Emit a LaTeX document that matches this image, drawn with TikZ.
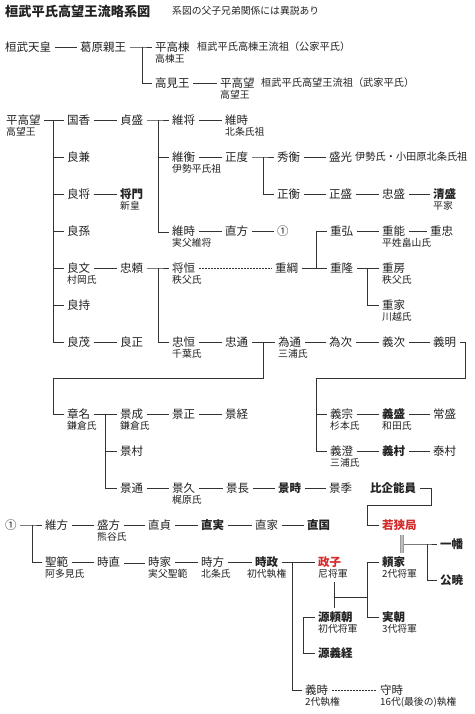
\documentclass[tikz,border=0pt]{standalone}
\usepackage{fontspec}
\setmainfont{Noto Sans CJK JP}
\definecolor{ink}{HTML}{222222}
\definecolor{lin}{HTML}{333333}
\definecolor{kred}{HTML}{D42A2A}
\newcommand\fmain{\fontsize{11.5}{13}\selectfont}
\newcommand\fsubl{\fontsize{9.8}{11}\selectfont}
\newcommand\fnote{\fontsize{10.2}{12}\selectfont}
\newcommand\ftitle{\fontsize{13.2}{15}\selectfont}
\newcommand\kname[4][]{\node[nm,#1] (#2) at (#3) {#4};}
\newcommand\ksub[2]{\node[sb] (#1s) at ([yshift=-12pt]#1.west) {#2};}
\begin{document}
\begin{tikzpicture}[x=1pt,y=-1pt,
  nm/.style={anchor=west, xshift=-3.5pt, inner xsep=3.5pt, inner ysep=0.5pt, font=\fmain, text=ink, text height=9.6pt, text depth=0.9pt},
  nb/.style={font=\fmain\bfseries},
  nr/.style={font=\fmain\bfseries, text=kred},
  sb/.style={anchor=west, inner xsep=3.5pt, inner ysep=0pt, font=\fsubl, text=ink, text height=8.2pt, text depth=0.8pt},
  note/.style={anchor=west, inner sep=0pt, font=\fnote, text=ink, text height=8.5pt, text depth=0.8pt},
  cn/.style={draw=lin, line width=0.8pt},
  dbl/.style={draw=lin, line width=0.7pt, double=white, double distance=1.6pt},
  dbg/.style={draw=black!40, line width=0.9pt, double=black!25, double distance=1.6pt},
  dot/.style={cn, dash pattern=on 1.6pt off 1.4pt}]
\fill[white] (0,0) rectangle (474,714);
\useasboundingbox (0,0) rectangle (474,714);

% title
\node[anchor=west,inner sep=0pt,font=\ftitle\bfseries,text=ink] (title) at (5,11) {桓武平氏高望王流略系図};
\node[anchor=west,inner sep=0pt,font=\fsubl,text=ink] (subtitle) at (172,11) {系図の父子兄弟関係には異説あり};

% top section
\kname{kanmu}{5,47}{桓武天皇}
\kname{kazu}{80,47}{葛原親王}
\kname{takamune}{155,47}{平高棟}\ksub{takamune}{高棟王}
\node[note] (note1) at (197,47) {桓武平氏高棟王流祖（公家平氏）};
\kname{takami}{155,83}{高見王}
\kname{tkA}{220,83}{平高望}\ksub{tkA}{高望王}
\node[note] (note2) at (261,83) {桓武平氏高望王流祖（武家平氏）};
\coordinate (jA) at (142,47);
\draw[cn] (kanmu.east) -- (kazu.west);
\draw[cn] (kazu.east) -- (jA) -- (takamune.west);
\draw[cn] (jA) |- (takami.west);
\draw[cn] (takami.east) -- (tkA.west);

% main tree
\kname{tk}{6,120}{平高望}\ksub{tk}{高望王}
\kname{kunika}{67,120}{国香}
\kname{yoshikane}{67,157}{良兼}
\kname{yoshimasa}{67,194}{良将}
\kname{yoshihiko}{67,231}{良孫}
\kname{yoshifumi}{67,268}{良文}\ksub{yoshifumi}{村岡氏}
\kname{yoshimochi}{67,305}{良持}
\kname{yoshishige}{67,342}{良茂}

\kname{sadamori}{120,120}{貞盛}
\kname[nb]{masakado}{120,194}{将門}\ksub{masakado}{新皇}
\kname{tadayori}{120,268}{忠頼}
\kname{yoshimasaB}{120,342}{良正}

\kname{koremasa}{172,120}{維将}
\kname{korehira}{172,157}{維衡}\ksub{korehira}{伊勢平氏祖}
\kname{koretokiB}{172,231}{維時}\ksub{koretokiB}{実父維将}
\kname{masatsune}{172,268}{将恒}\ksub{masatsune}{秩父氏}
\kname{tadatsune}{172,342}{忠恒}\ksub{tadatsune}{千葉氏}

\kname{koretokiA}{225,120}{維時}\ksub{koretokiA}{北条氏祖}
\kname{masanori}{225,157}{正度}
\kname{naokata}{225,231}{直方}
\kname{tadamichi}{225,342}{忠通}

\kname{hidehira}{277,157}{秀衡}
\kname{masahira}{277,194}{正衡}
\kname{circA}{277,231}{①}
\kname{shigetsuna}{275,268}{重綱}
\kname{tamemichi}{278,342}{為通}\ksub{tamemichi}{三浦氏}

\kname{morimitsu}{329,157}{盛光}
\node[note] (note3) at (355,157) {伊勢氏・小田原北条氏祖};
\kname{masamori}{329,194}{正盛}
\kname{shigehiro}{330,231}{重弘}
\kname{shigetaka}{330,268}{重隆}
\kname{tametsugu}{329,342}{為次}

\kname{tadamori}{382,194}{忠盛}
\kname{shigeyoshi}{382,231}{重能}\ksub{shigeyoshi}{平姓畠山氏}
\kname{shigefusa}{382,268}{重房}\ksub{shigefusa}{秩父氏}
\kname{shigeie}{382,305}{重家}\ksub{shigeie}{川越氏}
\kname{yoshitsugu}{382,342}{義次}

\kname[nb]{kiyomori}{433,194}{清盛}\ksub{kiyomori}{平家}
\kname{shigetada}{430,231}{重忠}
\kname{yoshiaki}{433,342}{義明}

% lower part
\kname{akina}{67,414}{章名}\ksub{akina}{鎌倉氏}
\kname{kagenari}{120,414}{景成}\ksub{kagenari}{鎌倉氏}
\kname{kagemasa}{172,414}{景正}
\kname{kagetsune}{225,414}{景経}
\kname{kagemura}{120,451}{景村}
\kname{kagemichi}{120,488}{景通}
\kname{kagehisa}{172,488}{景久}\ksub{kagehisa}{梶原氏}
\kname{kagenaga}{226,488}{景長}
\kname[nb]{kagetoki}{278,488}{景時}
\kname{kagesue}{329,488}{景季}
\kname[nb]{hiki}{370,488}{比企能員}

\kname{yoshimune}{330,414}{義宗}\ksub{yoshimune}{杉本氏}
\kname[nb]{yoshimori}{382,414}{義盛}\ksub{yoshimori}{和田氏}
\kname{tsunemori}{433,414}{常盛}
\kname{yoshizumi}{330,451}{義澄}\ksub{yoshizumi}{三浦氏}
\kname[nb]{yoshimura}{382,451}{義村}
\kname{yasumura}{433,451}{泰村}

\kname{circB}{5,525}{①}
\kname{koregata}{45,525}{維方}
\kname{morikata}{97,525}{盛方}\ksub{morikata}{熊谷氏}
\kname{naosada}{148,525}{直貞}
\kname[nb]{naozane}{201,525}{直実}
\kname{naoie}{255,525}{直家}
\kname[nb]{naokuni}{307,525}{直国}
\kname[nr]{wakasa}{382,525}{若狭局}

\kname{shohan}{45,562}{聖範}\ksub{shohan}{阿多見氏}
\kname{tokinao}{97,562}{時直}
\kname{tokiie}{148,562}{時家}\ksub{tokiie}{実父聖範}
\kname{tokikata}{201,562}{時方}\ksub{tokikata}{北条氏}
\kname[nb]{tokimasa}{255,562}{時政}
\node[sb,anchor=center] (tokimasas) at ([yshift=-12pt]tokimasa.center) {初代執権};
\kname[nr]{masako}{318,562}{政子}\ksub{masako}{尼将軍}
\kname[nb]{yoriie}{382,562}{頼家}\ksub{yoriie}{2代将軍}
\kname[nb]{ichiman}{440,544}{一幡}
\kname[nb]{kugyo}{440,580}{公暁}
\kname[nb]{yoritomo}{318,617}{源頼朝}\ksub{yoritomo}{初代将軍}
\kname[nb]{sanetomo}{382,617}{実朝}\ksub{sanetomo}{3代将軍}
\kname[nb]{yoshitsune}{318,653}{源義経}
\kname{yoshitoki}{305,690}{義時}\ksub{yoshitoki}{2代執権}
\kname{moritoki}{380,690}{守時}\ksub{moritoki}{16代(最後の)執権}

% ---- connectors ----
\coordinate (j1) at (53,120);
\draw[cn] (tk.east) -- (j1) |- (yoshishige.west);
\draw[cn] (j1) -- (kunika.west);
\draw[cn] (j1 |- yoshikane.west) -- (yoshikane.west);
\draw[cn] (j1 |- yoshimasa.west) -- (yoshimasa.west);
\draw[cn] (j1 |- yoshihiko.west) -- (yoshihiko.west);
\draw[cn] (j1 |- yoshifumi.west) -- (yoshifumi.west);
\draw[cn] (j1 |- yoshimochi.west) -- (yoshimochi.west);

\draw[cn] (kunika.east) -- (sadamori.west);
\coordinate (j2) at (158,120);
\coordinate (j2b) at (158,231);
\draw[dbl] (j2b) -- (koretokiB.west);
\draw[cn] (sadamori.east) -- (j2) -- (koremasa.west);
\draw[cn] (j2) -- ([yshift=-1.15pt]j2b);
\draw[cn] (j2 |- korehira.west) -- (korehira.west);
\draw[cn] (koremasa.east) -- (koretokiA.west);
\draw[cn] (korehira.east) -- (masanori.west);
\coordinate (j3) at (263,157);
\draw[cn] (masanori.east) -- (j3) -- (hidehira.west);
\draw[cn] (j3) |- (masahira.west);
\draw[cn] (hidehira.east) -- (morimitsu.west);
\draw[cn] (masahira.east) -- (masamori.west);
\draw[cn] (masamori.east) -- (tadamori.west);
\draw[cn] (tadamori.east) -- (kiyomori.west);
\draw[cn] (yoshimasa.east) -- (masakado.west);
\draw[cn] (koretokiB.east) -- (naokata.west);
\draw[cn] (naokata.east) -- (circA.west);

\draw[cn] (yoshifumi.east) -- (tadayori.west);
\coordinate (j4) at (158,268);
\draw[cn] (tadayori.east) -- (j4) -- (masatsune.west);
\draw[cn] (j4) |- (tadatsune.west);
\draw[dot] (masatsune.east) -- (shigetsuna.west);
\coordinate (j5) at (316,268);
\draw[cn] (shigetsuna.east) -- (shigetaka.west);
\draw[cn] (j5) |- (shigehiro.west);
\draw[cn] (shigehiro.east) -- (shigeyoshi.west);
\draw[cn] (shigeyoshi.east) -- (shigetada.west);
\coordinate (j6) at (367,268);
\draw[cn] (shigetaka.east) -- (shigefusa.west);
\draw[cn] (j6) |- (shigeie.west);

\draw[cn] (yoshishige.east) -- (yoshimasaB.west);
\draw[cn] (tadatsune.east) -- (tadamichi.west);
\coordinate (j7) at (263,342);
\coordinate (j7b) at (263,378);
\coordinate (j7c) at (53,378);
\draw[cn] (tadamichi.east) -- (tamemichi.west);
\draw[cn] (j7) -- (j7b) -- (j7c) |- (akina.west);
\draw[cn] (tamemichi.east) -- (tametsugu.west);
\draw[cn] (tametsugu.east) -- (yoshitsugu.west);
\draw[cn] (yoshitsugu.east) -- (yoshiaki.west);
\coordinate (j8) at (465,342);
\coordinate (j8b) at (465,378);
\coordinate (j8c) at (316,378);
\draw[cn] (yoshiaki.east) -- (j8) -- (j8b) -- (j8c) |- (yoshizumi.west);
\draw[cn] (j8c |- yoshimune.west) -- (yoshimune.west);
\draw[cn] (yoshimune.east) -- (yoshimori.west);
\draw[cn] (yoshimori.east) -- (tsunemori.west);
\draw[cn] (yoshizumi.east) -- (yoshimura.west);
\draw[cn] (yoshimura.east) -- (yasumura.west);

\coordinate (j9) at (105,414);
\draw[cn] (akina.east) -- (kagenari.west);
\draw[cn] (j9) |- (kagemichi.west);
\draw[cn] (j9 |- kagemura.west) -- (kagemura.west);
\draw[cn] (kagenari.east) -- (kagemasa.west);
\draw[cn] (kagemasa.east) -- (kagetsune.west);
\draw[cn] (kagemichi.east) -- (kagehisa.west);
\draw[cn] (kagehisa.east) -- (kagenaga.west);
\draw[cn] (kagenaga.east) -- (kagetoki.west);
\draw[cn] (kagetoki.east) -- (kagesue.west);

\coordinate (h1) at (431,488);
\coordinate (h2) at (431,505);
\coordinate (h3) at (367,505);
\draw[cn] (hiki.east) -- (h1) -- (h2) -- (h3) |- (wakasa.west);

\coordinate (j10) at (32,525);
\draw[cn] (circB.east) -- (j10) -- (koregata.west);
\draw[cn] (j10) |- (shohan.west);
\draw[cn] (koregata.east) -- (morikata.west);
\draw[cn] (morikata.east) -- (naosada.west);
\draw[cn] (naosada.east) -- (naozane.west);
\draw[cn] (naozane.east) -- (naoie.west);
\draw[cn] (naoie.east) -- (naokuni.west);

\draw[cn] (shohan.east) -- (tokinao.west);
\draw[dbl] (tokinao.east) -- (tokiie.west);
\draw[cn] (tokiie.east) -- (tokikata.west);
\draw[cn] (tokikata.east) -- (tokimasa.west);
\coordinate (j11) at (292,562);
\draw[cn] (tokimasa.east) -- (masako.west);
\draw[cn] (j11) |- (yoshitoki.west);
\draw[dot] (yoshitoki.east) -- (moritoki.west);

% marriage Masako - Yoritomo
\coordinate (m1) at (333,582);
\coordinate (m2) at (333,608);
\coordinate (m3) at (333,597);
\coordinate (j13) at (367,562);
\draw[cn] (m3) -- (m3 -| j13);
\draw[dbl] (m1) -- (m2);
\draw[cn] (j13) -- (yoriie.west);
\draw[cn] (j13) |- (sanetomo.west);
\coordinate (j12) at (303,617);
\draw[cn] (yoritomo.west) -- (j12) |- (yoshitsune.west);

% marriage Wakasa - Yoriie
\coordinate (w1) at (402,535);
\coordinate (w2) at (402,553);
\coordinate (w3) at (402,544);
\coordinate (j14) at (427,544);
\draw[cn] (w3) -- (j14) -- (ichiman.west);
\draw[cn] (j14) |- (kugyo.west);
\draw[dbg] (w1) -- (w2);
\end{tikzpicture}
\end{document}
